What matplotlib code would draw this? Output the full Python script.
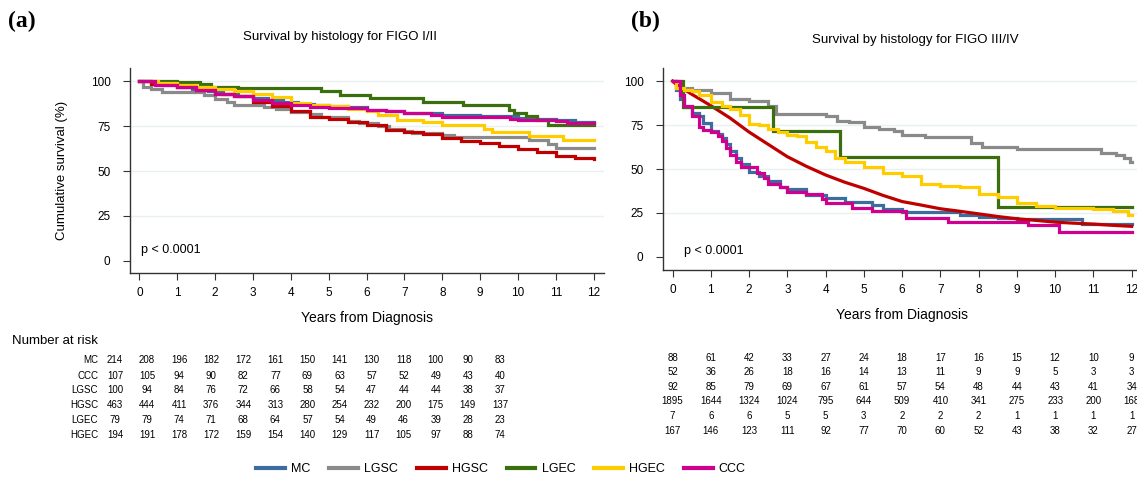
import matplotlib
matplotlib.use('Agg')
import matplotlib.pyplot as plt
import matplotlib.transforms as mtransforms
from matplotlib.lines import Line2D

plt.rcParams['font.family'] = ['Liberation Sans', 'DejaVu Sans']

# series order / colours
groups = ['MC', 'LGSC', 'HGSC', 'LGEC', 'HGEC', 'CCC']
colors = {'MC': '#3d6d9e', 'LGSC': '#8a8a8a', 'HGSC': '#c00000',
          'LGEC': '#3b6e0c', 'HGEC': '#ffcc00', 'CCC': '#d0008f'}

# ---- panel (a): FIGO I/II, survival curves
a_mc_t = [0, 0.3, 0.6, 1.0, 1.4, 1.8, 2.2, 2.6, 3.0, 3.4, 3.8, 4.2, 4.6, 5.0, 5.5, 6.0, 6.5, 7.0, 7.5, 8.0, 9.0, 10.0, 10.5, 11.0, 11.5, 12.0]
a_mc_s = [100, 99, 98, 97, 95.5, 94.5, 93, 92, 90.5, 89.5, 88.5, 87.5, 87, 86, 85.5, 84, 83.5, 82.5, 82, 81, 80.5, 79.5, 79, 78.5, 77.5, 77]
a_ccc_t = [0, 0.4, 1.0, 1.5, 2.0, 2.5, 3.0, 3.5, 4.0, 4.5, 5.0, 6.0, 6.5, 7.0, 7.7, 8.0, 9.8, 10.0, 11.0, 11.3, 12.0]
a_ccc_s = [100, 98, 96.5, 95, 93, 91.5, 89.5, 88, 86.5, 85.5, 85, 84, 83.5, 82.5, 81, 80, 79, 78.5, 78, 76.5, 76.5]
a_lgsc_t = [0, 0.1, 0.3, 0.6, 1.7, 2.0, 2.3, 2.5, 3.3, 3.6, 4.0, 4.5, 4.8, 5.5, 5.8, 6.3, 6.6, 7.0, 7.2, 8.0, 8.3, 10.3, 10.8, 11.0, 12.0]
a_lgsc_s = [100, 97, 95.5, 94, 92.5, 90, 88.5, 87, 85.5, 84.5, 83, 81.5, 80, 78, 76.5, 75, 73.5, 72, 71, 70, 69, 67.5, 65, 63, 63]
a_hgsc_t = [0, 0.3, 1.0, 1.5, 2.0, 2.5, 3.0, 3.5, 4.0, 4.5, 5.0, 5.5, 6.0, 6.5, 7.0, 7.5, 8.0, 8.5, 9.0, 9.5, 10.0, 10.5, 11.0, 11.5, 12.0]
a_hgsc_s = [100, 98.5, 96.5, 95, 93, 91.5, 88.5, 86, 83.5, 80, 79, 77, 75.5, 73, 71.5, 70.5, 68.5, 66.5, 65.5, 64, 62, 60.5, 58.5, 57, 56.5]
a_lgec_t = [0, 1.0, 1.6, 1.9, 2.6, 4.8, 5.3, 6.1, 7.5, 8.55, 9.75, 9.9, 10.2, 10.5, 10.8, 12.0]
a_lgec_s = [100, 99.5, 98.5, 97, 96, 94.5, 92.5, 90.5, 88.5, 86.5, 84, 82, 80.5, 78.5, 75.5, 75.5]
a_hgec_t = [0, 0.5, 1.0, 1.5, 2.0, 2.5, 3.0, 3.5, 4.0, 4.5, 5.0, 5.5, 6.0, 6.3, 6.8, 7.5, 8.0, 9.1, 9.3, 10.3, 11.2, 12.0]
a_hgec_s = [100, 99, 98, 97, 95.5, 94.5, 93, 91, 88, 87, 86, 84.5, 83.5, 81, 78.5, 77.5, 75.5, 73.5, 71.5, 69.5, 67.5, 67]

# ---- panel (b): FIGO III/IV
b_mc_t = [0, 0.1, 0.2, 0.3, 0.5, 0.7, 0.8, 1.0, 1.2, 1.3, 1.4, 1.5, 1.65, 1.8, 2.0, 2.25, 2.5, 2.8, 3.0, 3.5, 4.0, 4.5, 5.2, 5.5, 6.0, 7.5, 8.0, 8.5, 9.0, 10.7, 12.0]
b_mc_s = [100, 95, 90, 85, 82, 80, 76, 71.5, 70, 67.5, 64, 60, 56, 53, 48.5, 46, 43, 40, 38.5, 35.5, 33.5, 31.5, 29.5, 27, 25.5, 24, 23, 22, 21.5, 18.5, 18.5]
b_ccc_t = [0, 0.2, 0.3, 0.5, 0.7, 0.8, 1.0, 1.2, 1.3, 1.4, 1.5, 1.65, 1.8, 2.2, 2.4, 2.5, 2.8, 3.0, 3.5, 3.9, 4.0, 4.7, 5.2, 6.1, 7.2, 9.3, 10.1, 12.0]
b_ccc_s = [100, 92, 86, 80, 74, 72, 71, 69, 66, 62, 58, 54, 51, 48, 45, 41.5, 40, 37, 36, 33, 30.5, 28, 26, 22, 20, 18, 14, 14]
b_lgsc_t = [0, 0.1, 0.5, 1.0, 1.5, 2.0, 2.5, 2.7, 4.0, 4.3, 4.6, 5.0, 5.4, 5.8, 6.0, 6.6, 7.8, 8.1, 9.0, 11.2, 11.6, 11.8, 11.95, 12.0]
b_lgsc_s = [100, 96, 95, 93, 90, 88.5, 86, 81.5, 80, 77, 76.5, 74, 72.5, 71.5, 69.5, 68, 64.5, 62.5, 61.5, 59, 58, 56, 54, 54]
b_hgsc_t = [0, 0.1, 0.5, 1.0, 1.5, 2.0, 2.5, 3.0, 3.5, 4.0, 4.5, 5.0, 5.5, 6.0, 6.5, 7.0, 7.5, 8.0, 8.5, 9.0, 9.5, 10.0, 10.5, 11.0, 11.5, 12.0]
b_hgsc_s = [100, 98, 92.5, 86, 79, 71, 64, 57, 51.5, 46.6, 42.5, 39, 35, 31.5, 29.5, 27.4, 26, 24.5, 23, 21.7, 20.8, 19.8, 19.2, 18.7, 18, 17.4]
b_lgec_t = [0, 0.27, 2.62, 4.37, 8.5, 12.0]
b_lgec_s = [100, 85.5, 71.5, 57, 28.5, 28.5]
b_hgec_t = [0, 0.1, 0.3, 0.5, 0.7, 1.0, 1.3, 1.5, 1.75, 2.0, 2.25, 2.5, 2.75, 3.0, 3.25, 3.5, 3.75, 4.0, 4.25, 4.5, 5.0, 5.5, 6.0, 6.5, 7.0, 7.5, 8.0, 8.5, 9.0, 9.5, 10.0, 11.0, 11.5, 11.9, 12.0]
b_hgec_s = [100, 96, 95, 94.5, 92, 88, 86, 84, 80.5, 75.5, 75, 72.5, 71, 69.5, 68.5, 65.5, 62.5, 60, 56, 54, 51, 47.5, 46, 41.5, 40.4, 40, 36, 34, 30.6, 28.7, 28, 27, 26, 24, 24]

# ---- number at risk
risk_rows = ['MC', 'CCC', 'LGSC', 'HGSC', 'LGEC', 'HGEC']
risk_a = [
    [214, 208, 196, 182, 172, 161, 150, 141, 130, 118, 100, 90, 83],
    [107, 105, 94, 90, 82, 77, 69, 63, 57, 52, 49, 43, 40],
    [100, 94, 84, 76, 72, 66, 58, 54, 47, 44, 44, 38, 37],
    [463, 444, 411, 376, 344, 313, 280, 254, 232, 200, 175, 149, 137],
    [79, 79, 74, 71, 68, 64, 57, 54, 49, 46, 39, 28, 23],
    [194, 191, 178, 172, 159, 154, 140, 129, 117, 105, 97, 88, 74],
]
risk_b = [
    [88, 61, 42, 33, 27, 24, 18, 17, 16, 15, 12, 10, 9],
    [52, 36, 26, 18, 16, 14, 13, 11, 9, 9, 5, 3, 3],
    [92, 85, 79, 69, 67, 61, 57, 54, 48, 44, 43, 41, 34],
    [1895, 1644, 1324, 1024, 795, 644, 509, 410, 341, 275, 233, 200, 168],
    [7, 6, 6, 5, 5, 3, 2, 2, 2, 1, 1, 1, 1],
    [167, 146, 123, 111, 92, 77, 70, 60, 52, 43, 38, 32, 27],
]
years = list(range(13))

curves_a = {'MC': (a_mc_t, a_mc_s), 'LGSC': (a_lgsc_t, a_lgsc_s), 'HGSC': (a_hgsc_t, a_hgsc_s),
            'LGEC': (a_lgec_t, a_lgec_s), 'HGEC': (a_hgec_t, a_hgec_s), 'CCC': (a_ccc_t, a_ccc_s)}
curves_b = {'MC': (b_mc_t, b_mc_s), 'LGSC': (b_lgsc_t, b_lgsc_s), 'HGSC': (b_hgsc_t, b_hgsc_s),
            'LGEC': (b_lgec_t, b_lgec_s), 'HGEC': (b_hgec_t, b_hgec_s), 'CCC': (b_ccc_t, b_ccc_s)}

W, H = 1137, 484
fig = plt.figure(figsize=(W / 100, H / 100), dpi=100)


def box(l, t, r, b):
    # pixel box -> figure fraction
    return [l / W, 1 - b / H, (r - l) / W, (b - t) / H]


def style_axes(ax, ymin, ymax):
    ax.set_xlim(-0.25, 12.27)
    ax.set_ylim(ymin, ymax)
    for s in ['top', 'right']:
        ax.spines[s].set_visible(False)
    for s in ['left', 'bottom']:
        ax.spines[s].set_color('#333333')
        ax.spines[s].set_linewidth(1.0)
    ax.set_xticks(years)
    ax.set_yticks([0, 25, 50, 75, 100])
    ax.tick_params(axis='y', length=5, width=0.8, pad=9, labelsize=8.5, color='#333333')
    ax.tick_params(axis='x', length=5, width=0.8, pad=5, labelsize=8.5, color='#333333')
    for g in [25, 50, 75, 100]:
        ax.axhline(g, color='#e9f0f2', lw=1.0, zorder=0)
    ax.set_xlabel('Years from Diagnosis', fontsize=10, labelpad=9)


ax_a = fig.add_axes(box(130, 68, 604, 273))
ax_b = fig.add_axes(box(663, 68, 1142, 270))
style_axes(ax_a, -6.7, 107.3)
style_axes(ax_b, -7.4, 107.4)

for g in groups:
    t, s = curves_a[g]
    ax_a.step(t, s, where='post', color=colors[g], lw=2.3, solid_joinstyle='miter')
    t, s = curves_b[g]
    if g == 'HGSC':
        ax_b.plot(t, s, color=colors[g], lw=2.3)
    else:
        ax_b.step(t, s, where='post', color=colors[g], lw=2.3, solid_joinstyle='miter')

ax_a.set_ylabel('Cumulative survival (%)', fontsize=9.5, labelpad=16)
ax_a.text(0.05, 6, 'p < 0.0001', fontsize=9, va='center', ha='left')
ax_b.text(0.3, 3.5, 'p < 0.0001', fontsize=9, va='center', ha='left')

fig.text(340 / W, 1 - 37 / H, 'Survival by histology for FIGO I/II', fontsize=9.5, ha='center', va='center')
fig.text(915 / W, 1 - 40 / H, 'Survival by histology for FIGO III/IV', fontsize=9.5, ha='center', va='center')
fig.text(8 / W, 1 - 21 / H, '(a)', fontsize=17, fontweight='bold', family='Liberation Serif', va='center')
fig.text(631 / W, 1 - 21 / H, '(b)', fontsize=17, fontweight='bold', family='Liberation Serif', va='center')

# number at risk tables
fig.text(12 / W, 1 - 341 / H, 'Number at risk', fontsize=9.5, va='center', ha='left')
ax_ta = fig.add_axes(box(115, 350, 500, 440))
ax_ta.set_xlim(0, 12)
ax_ta.axis('off')
tr_a = mtransforms.blended_transform_factory(ax_ta.transData, fig.transFigure)
tr_b = mtransforms.blended_transform_factory(ax_b.transData, fig.transFigure)
rows_ya = [360, 376, 390, 405, 420, 435]
rows_yb = [358, 372, 387, 401, 416, 431]
for i, name in enumerate(risk_rows):
    fig.text(98 / W, 1 - rows_ya[i] / H, name, fontsize=7, ha='right', va='center')
    for j, yr in enumerate(years):
        fig.text(yr, 1 - rows_ya[i] / H, str(risk_a[i][j]), fontsize=7, ha='center', va='center', transform=tr_a)
        fig.text(yr, 1 - rows_yb[i] / H, str(risk_b[i][j]), fontsize=7, ha='center', va='center', transform=tr_b)

handles = [Line2D([], [], color=colors[g], lw=3) for g in groups]
fig.legend(handles, groups, loc='center', bbox_to_anchor=(501 / W, 1 - 469 / H), ncol=6,
           frameon=False, fontsize=9, handlelength=2.3, columnspacing=1.5, handletextpad=0.5)

fig.savefig('out.png', dpi=100)
